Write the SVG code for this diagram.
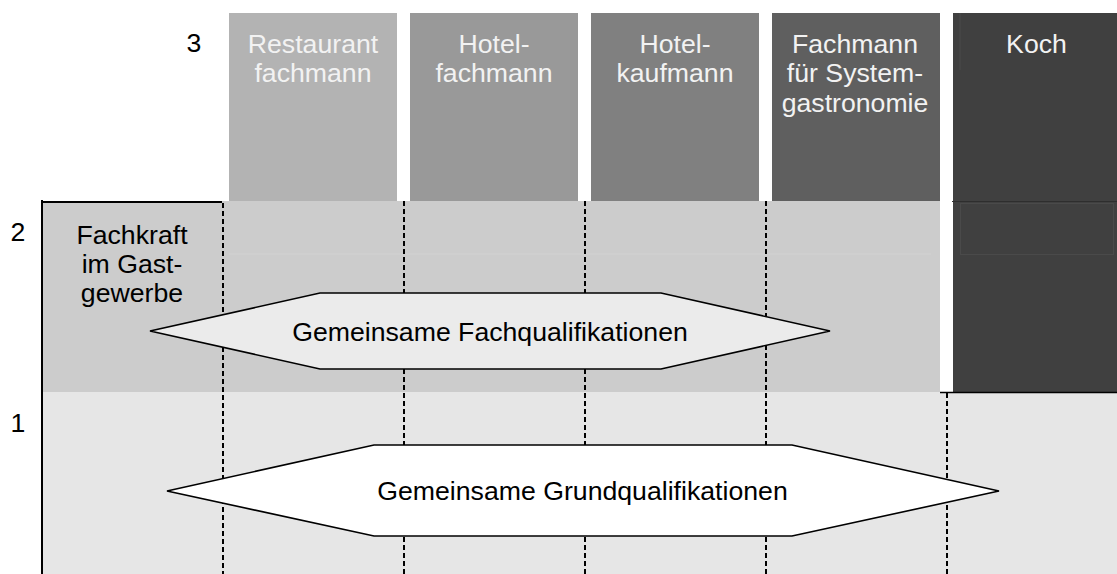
<svg xmlns="http://www.w3.org/2000/svg" width="1117" height="574" viewBox="0 0 1117 574">
<style>
text{font-family:"Liberation Sans",Arial,sans-serif;font-size:26.67px;}
.lt{fill:#f2f2f2;text-anchor:middle;}
.dk{fill:#000;text-anchor:middle;}
.dash{stroke:#000;stroke-width:2;stroke-dasharray:5 3;fill:none;}
.hex{stroke:#000;stroke-width:1.6;}
</style>
<rect x="0" y="0" width="1117" height="574" fill="#fff"/>
<g id="row1">
<rect x="42" y="392" width="1075" height="182" fill="#e6e6e6"/>
</g>
<g id="row2">
<rect x="42" y="201" width="898" height="191" fill="#cccccc"/>
<line x1="229" y1="254" x2="931" y2="254" stroke="#d2d2d2" stroke-width="1"/>
</g>
<g id="col-restaurant">
<rect x="229" y="13" width="168" height="188" fill="#b3b3b3"/>
<text class="lt" x="313" y="53">Restaurant</text>
<text class="lt" x="313" y="82">fachmann</text>
</g>
<g id="col-hotelfachmann">
<rect x="410" y="13" width="168" height="188" fill="#999999"/>
<text class="lt" x="494" y="53">Hotel-</text>
<text class="lt" x="494" y="82">fachmann</text>
</g>
<g id="col-hotelkaufmann">
<rect x="591" y="13" width="168" height="188" fill="#808080"/>
<text class="lt" x="675" y="53">Hotel-</text>
<text class="lt" x="675" y="82">kaufmann</text>
</g>
<g id="col-system">
<rect x="772" y="13" width="168" height="188" fill="#5f5f5f"/>
<text class="lt" x="855" y="53">Fachmann</text>
<text class="lt" x="855" y="82">für System-</text>
<text class="lt" x="855" y="112">gastronomie</text>
</g>
<g id="col-koch">
<rect x="953" y="13" width="164" height="379" fill="#404040"/>
<line x1="960" y1="13" x2="960" y2="70" stroke="#4a4a4a" stroke-width="1"/>
<rect x="960.5" y="203.5" width="153" height="51" fill="none" stroke="#4a4a4a" stroke-width="1"/>
<line x1="952" y1="201.5" x2="1117" y2="201.5" stroke="#2e2e2e" stroke-width="1"/>
<text class="lt" x="1036.5" y="53">Koch</text>
</g>
<g id="fachkraft">
<text class="dk" x="132" y="244">Fachkraft</text>
<text class="dk" x="132" y="273">im Gast-</text>
<text class="dk" x="132" y="302">gewerbe</text>
</g>
<g id="levels">
<text class="dk" x="194" y="52">3</text>
<text class="dk" x="18" y="241">2</text>
<text class="dk" x="18" y="432">1</text>
</g>
<g id="connectors">
<line class="dash" x1="223" y1="203" x2="223" y2="574"/>
<line class="dash" x1="404" y1="201" x2="404" y2="574"/>
<line class="dash" x1="585" y1="201" x2="585" y2="574"/>
<line class="dash" x1="766" y1="201" x2="766" y2="574"/>
<line class="dash" x1="947" y1="393" x2="947" y2="574"/>
<line x1="42" y1="200" x2="42" y2="574" stroke="#000" stroke-width="2"/>
<line x1="41" y1="202" x2="222" y2="202" stroke="#000" stroke-width="2"/>
<line x1="940" y1="392.5" x2="1117" y2="392.5" stroke="#000" stroke-width="1.6"/>
</g>
<g id="fachqualifikationen">
<polygon class="hex" points="150,331 320,293 661,293 830,331 661,369 320,369" fill="#ebebeb"/>
<text class="dk" x="490" y="340.5">Gemeinsame Fachqualifikationen</text>
</g>
<g id="grundqualifikationen">
<polygon class="hex" points="167,491 374,445 792,445 999,491 792,536 374,536" fill="#ffffff"/>
<text class="dk" x="582.5" y="499.5">Gemeinsame Grundqualifikationen</text>
</g>
</svg>
